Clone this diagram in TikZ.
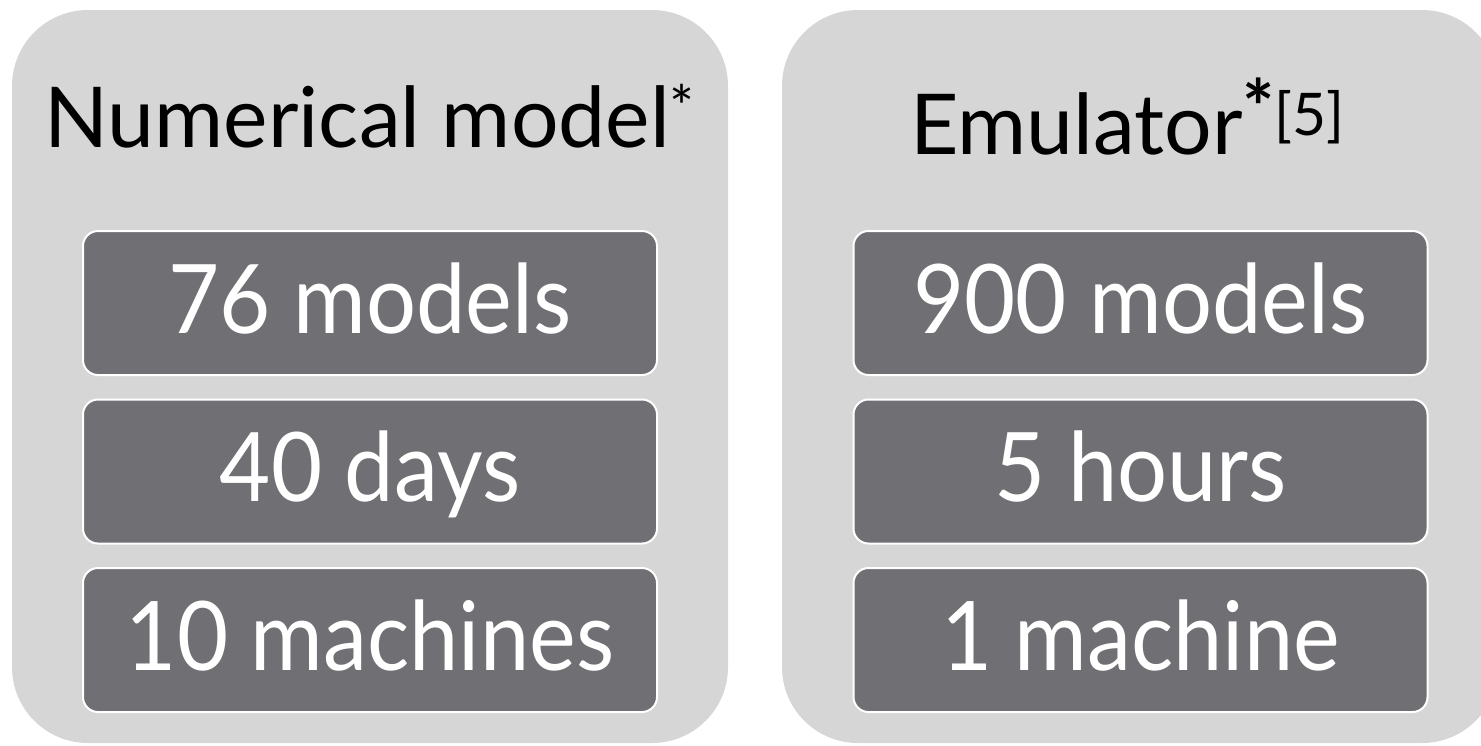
\documentclass[tikz,border=0pt]{standalone}
\usepackage{fontspec}
\setmainfont{Lato}
\newfontfamily\cellfont[FakeStretch=0.92]{Lato}
\definecolor{panelgray}{HTML}{D6D6D6}
\definecolor{boxgray}{HTML}{706F74}
\begin{document}
\begin{tikzpicture}[x=0.5pt,y=-0.5pt]
        \tikzstyle{every node}+=[inner sep=0pt]
        \tikzstyle{cell}=[fill=boxgray, draw=white, line width=1pt, rounded corners=7.5pt, minimum width=287pt, minimum height=72pt, text=white, font=\cellfont\fontsize{48}{50}\selectfont, text height=35pt, text depth=5pt]
        \tikzstyle{title}=[anchor=base, text=black, font=\fontsize{42}{45}\selectfont]
        \useasboundingbox (0,0) rectangle (1481,745);
        \clip (0,0) rectangle (1481,745);
        \fill [panelgray, rounded corners=38pt] (12,10) rectangle (728,743);
        \fill [panelgray, rounded corners=38pt] (782,10) rectangle (1498,743);
        \draw (370,147) node [title] (nmtitle) {Numerical model\textsuperscript{*}};
        \draw (1128,154) node [title] (emtitle) {Emulator\textsuperscript{{\bfseries\fontsize{38}{38}\selectfont *}[5]}};
        \draw (370,303) node [cell] (nm1) {76 models};
        \draw (370,471.5) node [cell] (nm2) {40 days};
        \draw (370,640) node [cell] (nm3) {10 machines};
        \draw (1140.5,303) node [cell] (em1) {900 models};
        \draw (1140.5,471.5) node [cell] (em2) {5 hours};
        \draw (1140.5,640) node [cell] (em3) {1 machine};
\end{tikzpicture}
\end{document}
